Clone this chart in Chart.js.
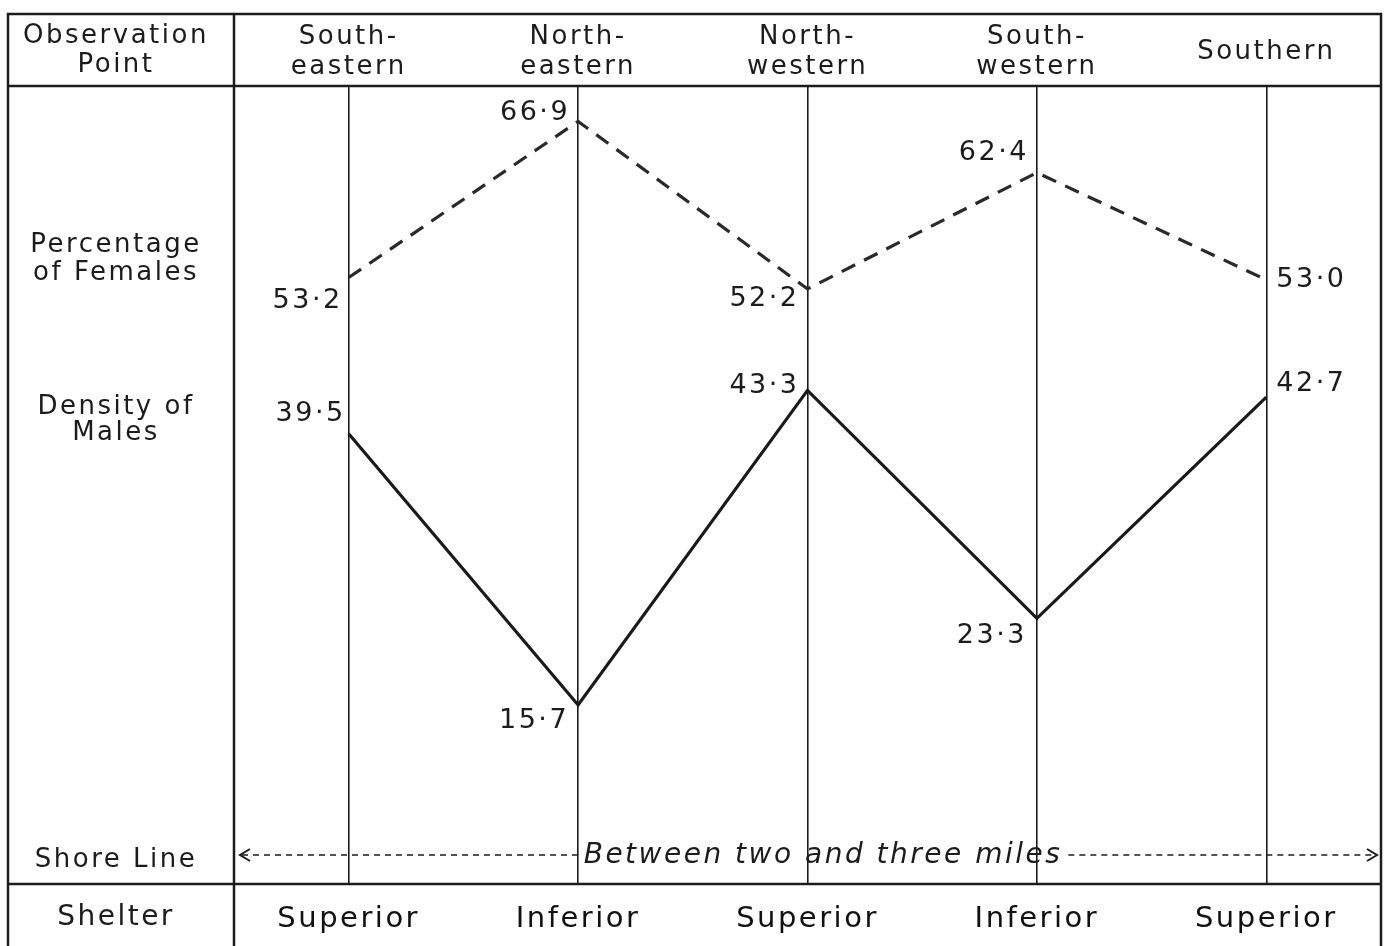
<!DOCTYPE html>
<html lang="en">
<head>
  <meta charset="UTF-8" />
  <title>Females and Males by Observation Point</title>
  <script src="https://cdn.jsdelivr.net/npm/chart.js"></script>
  <style>
    html, body { margin: 0; padding: 0; background: #fff; }
    #wrap { width: 1386px; height: 946px; position: relative; }
  </style>
</head>
<body>
  <div id="wrap"><canvas id="chart"></canvas></div>

  <script>
    // observation points along the shore and the shelter they offer
    const points = [['South-', 'eastern'], ['North-', 'eastern'], ['North-', 'western'], ['South-', 'western'], 'Southern'];
    const shelter = ['Superior', 'Inferior', 'Superior', 'Inferior', 'Superior'];

    const females = [53.2, 66.9, 52.2, 62.4, 53.0];   // percentage of females
    const males = [39.5, 15.7, 43.3, 23.3, 42.7];     // density of males

    // where each value label sits relative to its point: [align, dx, dy]
    const femaleLabelPos = [['right', -6, 23], ['right', -8, -8], ['right', -8, 10], ['right', -8, -20], ['left', 10, 0]];
    const maleLabelPos = [['right', -3, -20], ['right', -9, 16], ['right', -8, -4], ['right', -10, 18], ['left', 10, -13]];

    const INK = '#1c1c1c';
    const FONT = '"DejaVu Sans", sans-serif';
    const SPACING = '2.5px';

    const fmt = v => v.toFixed(1).replace('.', '\u00b7');

    const tablePlugin = {
      id: 'table',
      beforeDraw(chart) {
        const ctx = chart.ctx;
        ctx.save();
        ctx.fillStyle = '#fff';
        ctx.fillRect(0, 0, chart.width, chart.height);
        ctx.restore();
        // wide lettering for tick labels too
        ctx.letterSpacing = SPACING;
      },
      afterDraw(chart) {
        const ctx = chart.ctx;
        const a = chart.chartArea;
        const L = 8, T = 14, B = chart.height;
        ctx.save();
        ctx.letterSpacing = SPACING;
        ctx.strokeStyle = INK;
        ctx.lineCap = 'butt';

        // frame and row / column separators
        ctx.lineWidth = 2.5;
        ctx.beginPath();
        ctx.moveTo(L, B); ctx.lineTo(L, T); ctx.lineTo(a.right, T); ctx.lineTo(a.right, B);
        ctx.moveTo(a.left, T); ctx.lineTo(a.left, B);
        ctx.moveTo(L, a.top); ctx.lineTo(a.right, a.top);
        ctx.moveTo(L, a.bottom); ctx.lineTo(a.right, a.bottom);
        ctx.stroke();

        // left column headings
        ctx.fillStyle = INK;
        ctx.textAlign = 'center';
        ctx.textBaseline = 'middle';
        ctx.font = '26px ' + FONT;
        const cx = 116;
        ctx.fillText('Observation', cx, 36);
        ctx.fillText('Point', cx, 65);
        ctx.fillText('Percentage', cx, 245);
        ctx.fillText('of Females', cx, 273);
        ctx.fillText('Density of', cx, 407);
        ctx.fillText('Males', cx, 433);
        ctx.fillText('Shore Line', cx, 860);
        ctx.font = '28px ' + FONT;
        ctx.fillText('Shelter', cx, 918);

        // shore line distance arrow with its caption
        const y = 855;
        const x0 = a.left + 6, x1 = a.right - 4;
        const caption = 'Between two and three miles';
        ctx.font = 'italic 28px ' + FONT;
        const tw = ctx.measureText(caption).width;
        const tc = 823;
        const tx0 = tc - tw / 2 - 2, tx1 = tc + tw / 2 + 6;
        ctx.textAlign = 'center';
        ctx.fillText(caption, tc, y + 1);

        ctx.lineWidth = 1.6;
        ctx.setLineDash([6, 5]);
        ctx.beginPath();
        ctx.moveTo(x0 + 2, y); ctx.lineTo(tx0, y);
        ctx.moveTo(tx1, y); ctx.lineTo(x1 - 2, y);
        ctx.stroke();
        ctx.setLineDash([]);
        ctx.lineWidth = 2;
        ctx.beginPath();
        ctx.moveTo(x0 + 10, y - 6); ctx.lineTo(x0, y); ctx.lineTo(x0 + 10, y + 6);
        ctx.moveTo(x1 - 10, y - 6); ctx.lineTo(x1, y); ctx.lineTo(x1 - 10, y + 6);
        ctx.stroke();

        // value labels
        ctx.font = '27px ' + FONT;
        [[0, females, femaleLabelPos], [1, males, maleLabelPos]].forEach(([di, vals, pos]) => {
          const meta = chart.getDatasetMeta(di);
          meta.data.forEach((pt, i) => {
            const [align, dx, dy] = pos[i];
            ctx.textAlign = align;
            ctx.fillText(fmt(vals[i]), pt.x + dx, pt.y + dy);
          });
        });
        ctx.restore();
      }
    };

    new Chart(document.getElementById('chart'), {
      type: 'line',
      data: {
        labels: points,
        datasets: [
          {
            label: 'Percentage of Females',
            data: females,
            borderColor: '#2a2a2a',
            borderWidth: 3.2,
            borderDash: [15, 10],
            pointRadius: 0,
            tension: 0,
            xAxisID: 'x'
          },
          {
            label: 'Density of Males',
            data: males,
            borderColor: '#1a1a1a',
            borderWidth: 3.2,
            pointRadius: 0,
            tension: 0,
            xAxisID: 'x'
          }
        ]
      },
      options: {
        responsive: true,
        maintainAspectRatio: false,
        animation: false,
        layout: { padding: { left: 234, right: 5, top: 14, bottom: 0 } },
        plugins: {
          legend: { display: false },
          tooltip: { enabled: false }
        },
        scales: {
          x: {
            position: 'top',
            offset: true,
            grid: { color: INK, lineWidth: 1.6, drawTicks: false, offset: false },
            border: { display: false },
            ticks: {
              color: INK,
              padding: 19,
              crossAlign: 'center',
              maxRotation: 0,
              autoSkip: false,
              font: { family: FONT, size: 26, lineHeight: 1.15 }
            },
            afterFit(scale) { scale.height = 72; }
          },
          x2: {
            type: 'category',
            labels: shelter,
            position: 'bottom',
            offset: true,
            grid: { display: false, drawTicks: false },
            border: { display: false },
            ticks: {
              color: '#111',
              padding: 18,
              maxRotation: 0,
              autoSkip: false,
              font: { family: FONT, size: 29, lineHeight: 1.2 }
            },
            afterFit(scale) { scale.height = 62; }
          },
          y: {
            display: false,
            min: 0,
            max: 70
          }
        }
      },
      plugins: [tablePlugin]
    });
  </script>
</body>
</html>
